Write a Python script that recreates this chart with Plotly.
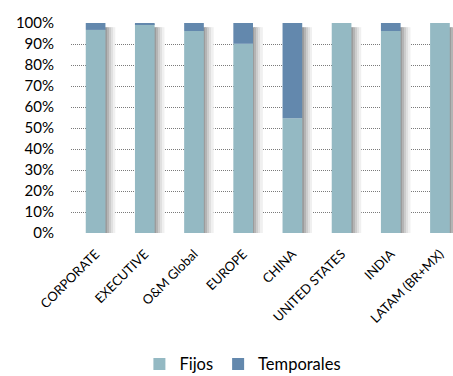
import plotly.graph_objects as go

categories = ["CORPORATE", "EXECUTIVE", "O&M Global", "EUROPE", "CHINA",
              "UNITED STATES", "INDIA", "LATAM (BR+MX)"]
fijos = [0.967, 0.995, 0.962, 0.901, 0.546, 1.0, 0.962, 1.0]
temporales = [round(1 - v, 3) for v in fijos]
y_ticks = [i / 10 for i in range(11)]

FONT = "Lato, 'Open Sans', sans-serif"
C_FIJ = "#94B9C3"
C_TEM = "#6388AD"

fig = go.Figure()

# soft drop shadow to the right of each bar
shadow_cols = ["#9c9c9c", "#b4b4b4", "#cccccc", "#e0e0e0", "#f0f0f0"]
totals = [f + t for f, t in zip(fijos, temporales)]
for i, c in enumerate(shadow_cols):
    fig.add_trace(go.Bar(
        x=categories, y=[t - 0.02 for t in totals], base=0,
        width=0.04, offset=0.2 + i * 0.04,
        marker=dict(color=c, line=dict(width=0)),
        showlegend=False, hoverinfo="skip"))

fig.add_trace(go.Bar(
    x=categories, y=fijos, name="Fijos", width=0.4,
    marker=dict(color=C_FIJ, line=dict(width=0))))
fig.add_trace(go.Bar(
    x=categories, y=temporales, base=fijos, name="Temporales", width=0.4,
    marker=dict(color=C_TEM, line=dict(width=0))))

fig.update_layout(
    width=453, height=376,
    margin=dict(l=71, r=0, t=23, b=143, autoexpand=False),
    barmode="overlay",
    plot_bgcolor="white", paper_bgcolor="white",
    font=dict(family=FONT, color="#000000"),
    showlegend=True,
    legend=dict(orientation="h", x=0.45, xanchor="center", y=-0.625, yanchor="middle",
                font=dict(size=16.5, family=FONT), traceorder="normal",
                itemwidth=30, bgcolor="rgba(0,0,0,0)",
                tracegroupgap=0),
)
fig.update_xaxes(
    range=[-0.5, 7.265], tickangle=-45, tickfont=dict(size=13, family=FONT),
    showgrid=False, showline=False, ticks="", zeroline=False,
    ticklabelstandoff=10, automargin=False)
fig.update_yaxes(
    range=[0, 1], tickvals=y_ticks, tickformat=".0%",
    tickfont=dict(size=15, family=FONT),
    showgrid=True, gridcolor="#7a7a7a", griddash="1px,1px", gridwidth=1,
    showline=False, zeroline=False, ticks="", ticklabelstandoff=16,
    automargin=False)

fig.write_html("out.html")
